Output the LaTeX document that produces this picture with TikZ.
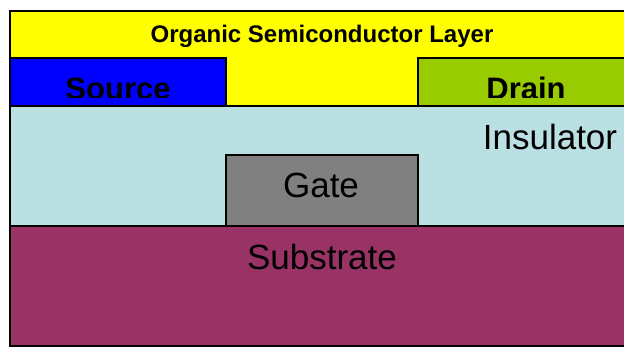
\documentclass[tikz,border=0pt]{standalone}
\usepackage{fontspec}
\setmainfont{Liberation Sans}
\definecolor{semi}{HTML}{FFFF00}
\definecolor{src}{HTML}{0000FF}
\definecolor{drn}{HTML}{99CC00}
\definecolor{ins}{HTML}{BBE0E3}
\definecolor{gat}{HTML}{808080}
\definecolor{sub}{HTML}{993366}
\begin{document}
\begin{tikzpicture}[x=1pt,y=-1pt,
  layer/.style={draw=black,line width=1.3pt},
  boldlbl/.style={anchor=base,inner sep=0pt,font=\fontsize{31}{36}\selectfont\bfseries},
  plainlbl/.style={anchor=base,inner sep=0pt,font=\fontsize{35}{40}\selectfont}]
\useasboundingbox (0,0) rectangle (624,347);
\clip (0,0) rectangle (624,347);
\fill[white] (0,0) rectangle (624,347);
\draw[layer,fill=semi] (10,11) rectangle (640,106);
\draw[layer,fill=src] (10,58) rectangle (226,106);
\draw[layer,fill=drn] (418,58) rectangle (640,106);
\draw[layer,fill=ins] (10,106) rectangle (640,226);
\draw[layer,fill=gat] (226,155) rectangle (418,226);
\draw[layer,fill=sub] (10,226) rectangle (640,346);
\node[anchor=base,inner sep=0pt,font=\fontsize{24}{28}\selectfont\bfseries] (title) at (322,42.5) {Organic Semiconductor Layer};
\begin{scope}
\clip (10,58) rectangle (640,97.5);
\node[boldlbl] (source) at (118,100) {Source};
\node[boldlbl] (drain) at (526,100) {Drain};
\end{scope}
\node[plainlbl] (insulator) at (550,149.5) {Insulator};
\node[plainlbl] (gate) at (321,198) {Gate};
\node[plainlbl] (substrate) at (322,269.5) {Substrate};
\end{tikzpicture}
\end{document}
